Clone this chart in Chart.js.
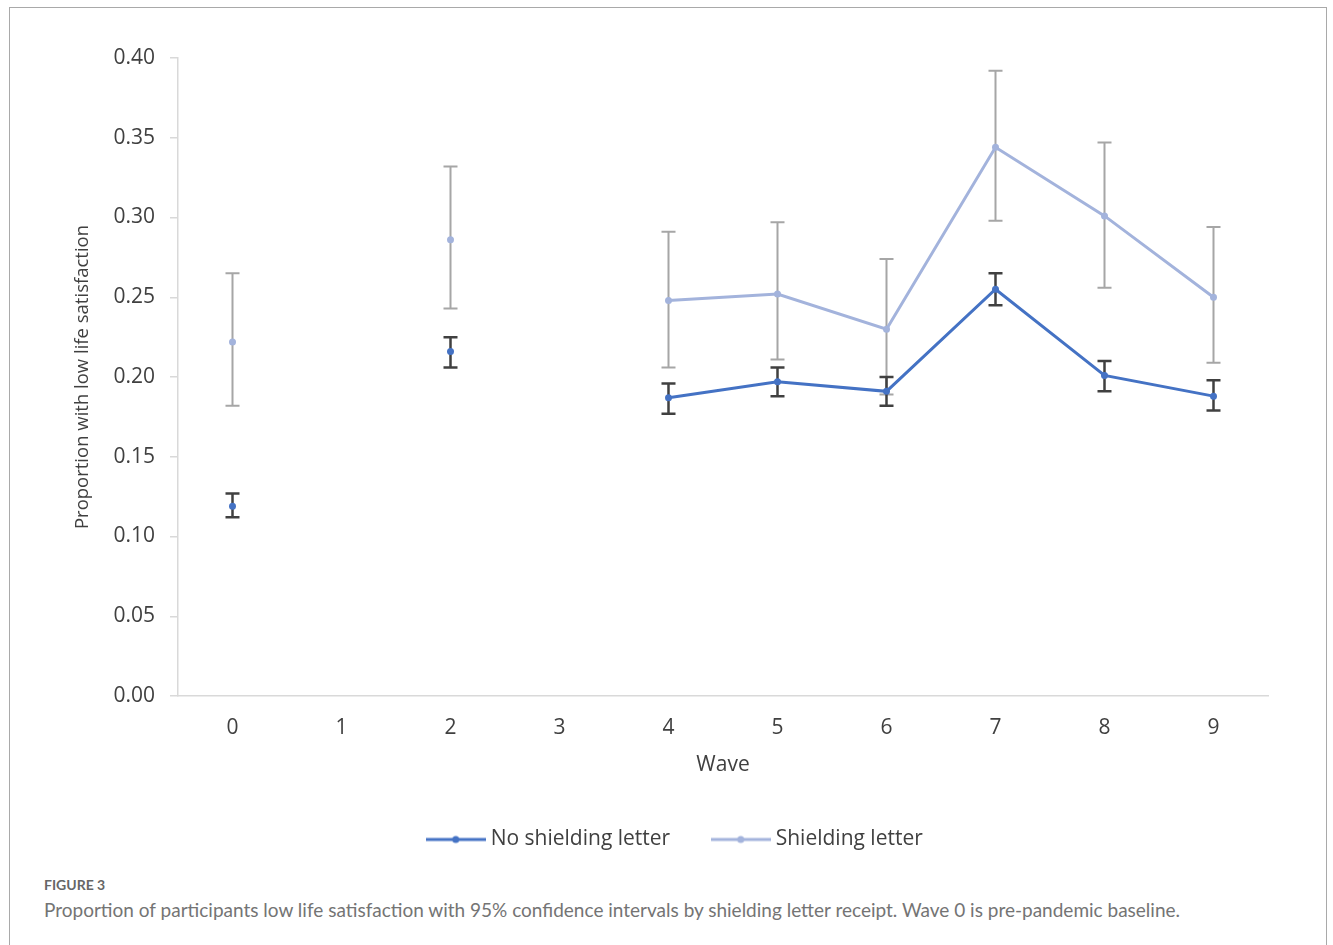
<!DOCTYPE html>
<html>
<head>
<meta charset="utf-8">
<script src="https://cdn.jsdelivr.net/npm/chart.js@4.4.1/dist/chart.umd.min.js"></script>
<style>
  html, body { margin: 0; padding: 0; background: #fff; width: 1333px; height: 945px; overflow: hidden; }
  #frame { position: absolute; left: 9px; top: 7px; width: 1316px; height: 980px; border: 1px solid #a9a9a9; }
  #c { position: absolute; left: 0; top: 0; z-index: 2; }
  #figlabel { position: absolute; left: 44px; top: 876px; font-family: Lato, "Open Sans", sans-serif; font-weight: bold; font-size: 14px; color: #666; z-index: 3; }
  #caption { position: absolute; left: 44px; top: 898px; font-family: Lato, "Open Sans", sans-serif; font-size: 19px; color: #747474; z-index: 3; white-space: nowrap; }
</style>
</head>
<body>
<div id="frame"></div>
<canvas id="c" width="1333" height="860"></canvas>
<div id="figlabel">FIGURE 3</div>
<div id="caption">Proportion of participants low life satisfaction with 95% confidence intervals by shielding letter receipt. Wave 0 is pre-pandemic baseline.</div>
<script>
const waves = ['0', '1', '2', '3', '4', '5', '6', '7', '8', '9'];
const yTicks = [0, 0.05, 0.10, 0.15, 0.20, 0.25, 0.30, 0.35, 0.40];

const noLetter     = [0.119, null, 0.216, null, 0.187, 0.197, 0.191, 0.255, 0.201, 0.188];
const noLetterLow  = [0.112, null, 0.206, null, 0.177, 0.188, 0.182, 0.245, 0.191, 0.179];
const noLetterHigh = [0.127, null, 0.225, null, 0.196, 0.206, 0.200, 0.265, 0.210, 0.198];

const letter     = [0.222, null, 0.286, null, 0.248, 0.252, 0.230, 0.344, 0.301, 0.250];
const letterLow  = [0.182, null, 0.243, null, 0.206, 0.211, 0.189, 0.298, 0.256, 0.209];
const letterHigh = [0.265, null, 0.332, null, 0.291, 0.297, 0.274, 0.392, 0.347, 0.294];

const darkBlue = '#4472C4';
const lightBlue = '#A3B3DC';

function legendIcon(color) {
  const cv = document.createElement('canvas');
  cv.width = 60; cv.height = 10;
  const g = cv.getContext('2d');
  g.strokeStyle = color; g.lineWidth = 3;
  g.beginPath(); g.moveTo(0, 5); g.lineTo(60, 5); g.stroke();
  g.fillStyle = color;
  g.beginPath(); g.arc(30, 5, 3.5, 0, Math.PI * 2); g.fill();
  return cv;
}

const errorBars = {
  id: 'errorBars',
  beforeDatasetsDraw(chart) {
    const ctx = chart.ctx;
    const x = chart.scales.x, y = chart.scales.y;
    const sets = [
      { low: letterLow, high: letterHigh, color: '#A6A6A6', w: 2 },
      { low: noLetterLow, high: noLetterHigh, color: '#404040', w: 2.5 }
    ];
    ctx.save();
    sets.forEach(s => {
      ctx.strokeStyle = s.color; ctx.lineWidth = s.w;
      for (let i = 0; i < waves.length; i++) {
        if (s.low[i] == null) continue;
        const px = x.getPixelForValue(i);
        const yl = y.getPixelForValue(s.low[i]);
        const yh = y.getPixelForValue(s.high[i]);
        ctx.beginPath();
        ctx.moveTo(px, yl); ctx.lineTo(px, yh);
        ctx.moveTo(px - 7, yl); ctx.lineTo(px + 7, yl);
        ctx.moveTo(px - 7, yh); ctx.lineTo(px + 7, yh);
        ctx.stroke();
      }
    });
    ctx.restore();
  }
};

const legendShift = {
  id: 'legendShift',
  afterLayout(chart) {
    if (chart.legend) { chart.legend.left += 9; chart.legend.right += 9; }
  }
};

Chart.defaults.font.family = '"Open Sans", sans-serif';

new Chart(document.getElementById('c'), {
  type: 'line',
  data: {
    labels: waves,
    datasets: [
      { label: 'No shielding letter', data: noLetter, borderColor: darkBlue, backgroundColor: darkBlue,
        borderWidth: 3, pointRadius: 3.5, pointBorderWidth: 0, pointStyle: 'circle', spanGaps: false, tension: 0 },
      { label: 'Shielding letter', data: letter, borderColor: lightBlue, backgroundColor: lightBlue,
        borderWidth: 3, pointRadius: 3.5, pointBorderWidth: 0, pointStyle: 'circle', spanGaps: false, tension: 0 }
    ]
  },
  options: {
    responsive: false,
    animation: false,
    layout: { padding: { left: 68, right: 65, top: 58, bottom: 0 } },
    plugins: {
      tooltip: { enabled: false },
      legend: {
        position: 'bottom',
        labels: {
          font: { size: 21 },
          color: '#404040',
          usePointStyle: true,
          pointStyleWidth: 49,
          padding: 46,
          generateLabels(chart) {
            return chart.data.datasets.map((d, i) => ({
              text: d.label, pointStyle: legendIcon(d.borderColor), fillStyle: d.borderColor,
              strokeStyle: d.borderColor, lineWidth: 0, hidden: false, datasetIndex: i, fontColor: '#404040'
            }));
          }
        }
      }
    },
    scales: {
      x: {
        type: 'category',
        offset: true,
        grid: { display: true, drawOnChartArea: false, drawTicks: false, color: '#d9d9d9' },
        border: { display: true, color: '#d9d9d9', width: 1.5 },
        ticks: { font: { size: 21 }, color: '#404040', padding: 19, maxRotation: 0 },
        title: { display: true, text: 'Wave', font: { size: 21 }, color: '#404040', padding: { top: 4, bottom: 5 } },
        afterFit(s) { s.height = 87; }
      },
      y: {
        min: 0, max: 0.4,
        afterBuildTicks(s) { s.ticks = yTicks.map(v => ({ value: v })); },
        grid: { display: true, drawOnChartArea: false, drawTicks: true, tickLength: 8, color: '#d9d9d9', lineWidth: 1.5 },
        border: { display: true, color: '#d9d9d9', width: 1.5 },
        ticks: { font: { size: 21 }, color: '#404040', padding: 15, callback: v => Number(v).toFixed(2) },
        title: { display: true, text: 'Proportion with low life satisfaction', font: { size: 18.5 }, color: '#404040', padding: { top: 4, bottom: 4 } },
        afterFit(s) { s.width = 110; }
      }
    }
  },
  plugins: [errorBars, legendShift]
});
</script>
</body>
</html>
